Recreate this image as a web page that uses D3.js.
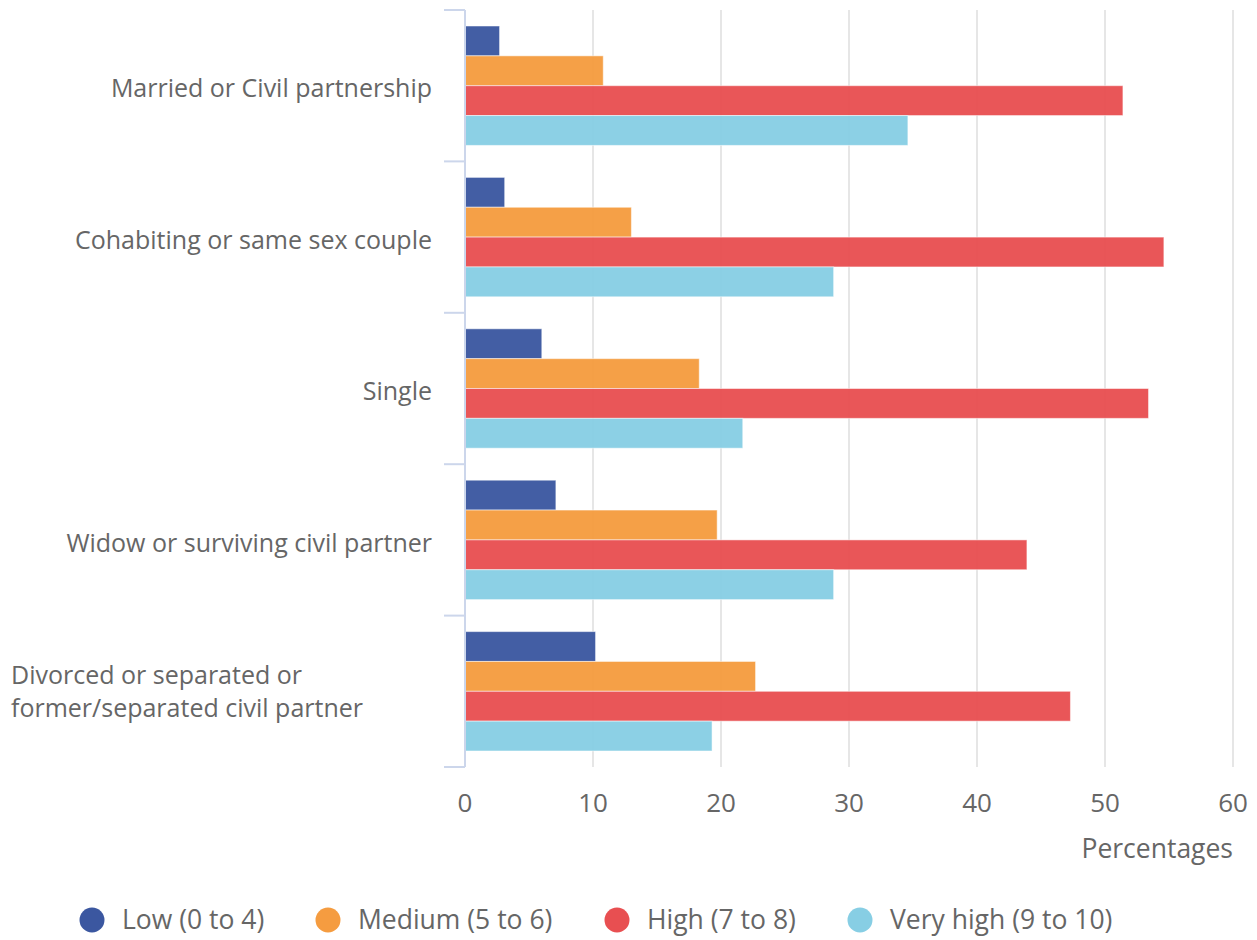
<!DOCTYPE html>
<html><head><meta charset="utf-8">
<script src="https://cdn.jsdelivr.net/npm/d3@7"></script>
<style>
body{margin:0;background:#fff;}
svg{display:block;font-family:"Open Sans",sans-serif;}
</style></head>
<body><svg id="c" width="1257" height="940"></svg>
<script>
const categories = ["Married or Civil partnership","Cohabiting or same sex couple","Single","Widow or surviving civil partner","Divorced or separated or former/separated civil partner"];
const categoryLines = [["Married or Civil partnership"],["Cohabiting or same sex couple"],["Single"],["Widow or surviving civil partner"],["Divorced or separated or","former/separated civil partner"]];
const seriesNames = ["Low (0 to 4)","Medium (5 to 6)","High (7 to 8)","Very high (9 to 10)"];
const lowValues = [2.7, 3.1, 6.0, 7.1, 10.2];
const mediumValues = [10.8, 13.0, 18.3, 19.7, 22.7];
const highValues = [51.4, 54.6, 53.4, 43.9, 47.3];
const veryHighValues = [34.6, 28.8, 21.7, 28.8, 19.3];
const xTicks = [0,10,20,30,40,50,60];
const colors = ["#3b57a0","#f59c40","#e84f51","#87cee4"];
const seriesValues = [lowValues, mediumValues, highValues, veryHighValues];

const svg = d3.select("#c");
const textColor = "#666666";
const x = d3.scaleLinear().domain([0,60]).range([465,1233]);
const y0 = d3.scaleBand().domain(categories).range([10,767]);
const y1 = d3.scaleBand().domain(seriesNames).range([16, y0.bandwidth()-16]);

// gridlines
svg.append("g").selectAll("line").data(xTicks.filter(t=>t>0)).join("line")
  .attr("x1",d=>x(d)).attr("x2",d=>x(d)).attr("y1",10).attr("y2",767)
  .attr("stroke","#e6e6e6").attr("stroke-width",2);

// bars
const groups = svg.append("g").selectAll("g").data(categories).join("g")
  .attr("transform",d=>`translate(0,${y0(d)})`);
groups.selectAll("rect").data((c,i)=>seriesNames.map((s,j)=>({s,j,v:seriesValues[j][i]}))).join("rect")
  .attr("x",x(0)).attr("y",d=>y1(d.s)).attr("height",y1.bandwidth())
  .attr("width",d=>x(d.v)-x(0))
  .attr("fill",d=>colors[d.j]).attr("fill-opacity",0.96)
  .attr("stroke","rgba(255,255,255,0.5)").attr("stroke-width",1);

// y axis line + ticks
const ax = svg.append("g");
ax.append("line").attr("x1",465).attr("x2",465).attr("y1",10).attr("y2",767)
  .attr("stroke","#ccd6eb").attr("stroke-width",2);
const bounds = categories.map(c=>y0(c)).concat([y0.range()[1]]);
ax.selectAll("line.t").data(bounds).join("line").attr("class","t")
  .attr("x1",444).attr("x2",465).attr("y1",d=>d).attr("y2",d=>d)
  .attr("stroke","#ccd6eb").attr("stroke-width",2);

// category labels
categories.forEach((c,i)=>{
  const lines = categoryLines[i];
  const cy = y0(c)+y0.bandwidth()/2;
  const lh = 33;
  const multi = lines.length > 1;
  const t = svg.append("text").attr("text-anchor", multi ? "start" : "end").attr("fill",textColor)
    .attr("font-size",25);
  lines.forEach((l,k)=>{
    t.append("tspan").attr("x", multi ? 11 : 432)
      .attr("y",cy + (multi ? 0 : 3) + (k-(lines.length-1)/2)*lh).attr("dy","0.35em").text(l);
  });
});

// x tick labels
svg.append("g").selectAll("text").data(xTicks).join("text")
  .attr("x",d=>x(d)).attr("y",803).attr("dy","0.35em").attr("text-anchor","middle")
  .attr("fill",textColor).attr("font-size",26).text(d=>d);

svg.append("text").attr("x",1233).attr("y",849).attr("dy","0.35em").attr("text-anchor","end")
  .attr("fill",textColor).attr("font-size",26.5).text("Percentages");

// legend
const legendX = [92, 328, 617, 860];
const lg = svg.append("g").selectAll("g").data(seriesNames).join("g")
  .attr("transform",(d,i)=>`translate(${legendX[i]},920)`);
lg.append("circle").attr("r",12.5).attr("fill",(d,i)=>colors[i]);
lg.append("text").attr("x",30).attr("dy","0.35em").attr("fill",textColor).attr("font-size",26.5).text(d=>d);
</script></body></html>
